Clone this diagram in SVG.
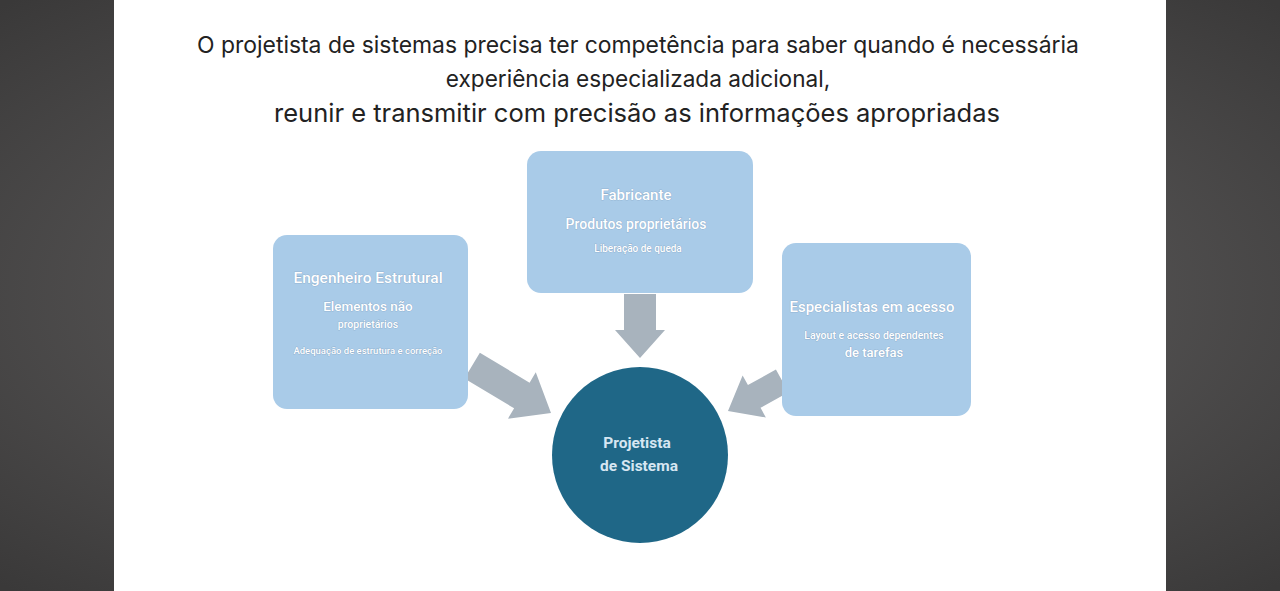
<svg xmlns="http://www.w3.org/2000/svg" width="1280" height="591" viewBox="0 0 1280 591">
<defs>
<radialGradient id="bg" cx="50%" cy="50%" r="70%"><stop offset="0" stop-color="#6a6868"/><stop offset="1" stop-color="#3a3939"/></radialGradient>
<style>
.box{fill:#a9cbe8}
.arr{fill:#a8b3bd}
.t{font-family:"Roboto","Liberation Sans",sans-serif;fill:#fff;text-anchor:middle;font-weight:500;stroke:#7f9fbf;stroke-width:0.6;paint-order:stroke}
.h{font-family:"Inter","Liberation Sans",sans-serif;fill:#222;text-anchor:middle}
</style>
</defs>
<rect width="1280" height="591" fill="url(#bg)"/>
<rect x="114" y="0" width="1052" height="591" fill="#fff"/>
<text class="h" x="638" y="53" font-size="22.9">O projetista de sistemas precisa ter competência para saber quando é necessária</text>
<text class="h" x="638" y="87" font-size="22.6">experiência especializada adicional,</text>
<text class="h" x="637" y="122" font-size="25.5">reunir e transmitir com precisão as informações apropriadas</text>
<g id="connectors">
<polygon class="arr" points="624,294 656,294 656,330 665,330 640,358 615,330 624,330"/>
<polygon class="arr" transform="translate(551,413) rotate(31)" points="0,0 -34,-27 -34,-15 -92,-15 -92,15 -34,15 -34,27"/>
<polygon class="arr" transform="translate(728,411) rotate(151)" points="0,0 -30,-24 -30,-13 -62,-13 -62,13 -30,13 -30,24"/>
</g>
<g id="n-eng">
<rect class="box" x="273" y="235" width="195" height="174" rx="14"/>
<text class="t" x="368" y="283" font-size="15.5">Engenheiro Estrutural</text>
<text class="t" x="368" y="311" font-size="13.5">Elementos não</text>
<text class="t" x="368" y="328" font-size="10.5">proprietários</text>
<text class="t" x="368" y="354" font-size="9.5">Adequação de estrutura e correção</text>
</g>
<g id="n-fab">
<rect class="box" x="527" y="151" width="226" height="142" rx="14"/>
<text class="t" x="636" y="200" font-size="15">Fabricante</text>
<text class="t" x="636" y="229" font-size="14">Produtos proprietários</text>
<text class="t" x="638" y="252" font-size="10">Liberação de queda</text>
</g>
<g id="n-esp">
<rect class="box" x="782" y="243" width="189" height="173" rx="14"/>
<text class="t" x="872" y="312" font-size="15">Especialistas em acesso</text>
<text class="t" x="874" y="339" font-size="10.5">Layout e acesso dependentes</text>
<text class="t" x="874" y="357" font-size="13">de tarefas</text>
</g>
<g id="n-proj">
<circle cx="640" cy="455" r="88" fill="#1f6787"/>
<text x="637" y="448" font-size="15.5" font-weight="bold" fill="#d6e6f2" text-anchor="middle" font-family="Roboto,'Liberation Sans',sans-serif">Projetista</text>
<text x="639" y="471" font-size="15.5" font-weight="bold" fill="#d6e6f2" text-anchor="middle" font-family="Roboto,'Liberation Sans',sans-serif">de Sistema</text>
</g>
</svg>
